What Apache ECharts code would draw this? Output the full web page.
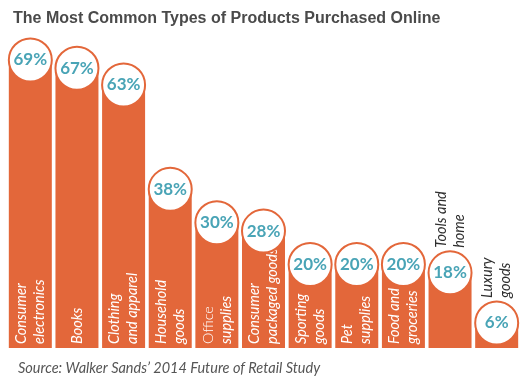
<!DOCTYPE html>
<html><head><meta charset="utf-8">
<script src="https://cdn.jsdelivr.net/npm/echarts@6/dist/echarts.min.js"></script>
<style>html,body{margin:0;padding:0;background:#fff}#c{width:527px;height:376px}</style>
</head><body><div id="c"></div>
<script>
var categories = ['Consumer\nelectronics','Books','Clothing\nand apparel','Household\ngoods','{u|Office}\nsupplies','Consumer\npackaged goods','Sporting\ngoods','Pet\nsupplies','Food and\ngroceries','Tools and\nhome','Luxury\ngoods'];
var values = [69,67,63,38,30,28,20,20,20,18,6];
var titleText = 'The Most Common Types of Products Purchased Online';
var sourceText = "Source: Walker Sands\u2019 2014 Future of Retail Study";

var ORANGE = '#e3673a', TEAL = '#49a4b6';
var barData = values.map(function(v,i){
  var outside = v < 19;
  return {
    value: v,
    label: outside ? {
      show: true, position: 'top', distance: 25, rotate: 90, align: 'left', verticalAlign: 'middle',
      color: '#2e2e2e'
    } : {
      show: true, position: 'insideBottom', distance: 4, rotate: 90, align: 'left', verticalAlign: 'middle',
      color: '#ffffff'
    }
  };
});
var chart = echarts.init(document.getElementById('c'));
chart.setOption({
  animation: false,
  title: [
    {text: titleText, left: 8, top: 6, textStyle: {fontFamily: 'Liberation Sans', fontWeight: 'bold', fontSize: 16, color: '#4a4a4a'}},
    {text: sourceText, left: 13, top: 356, textStyle: {fontFamily: 'Lato', fontStyle: 'italic', fontWeight: 'normal', fontSize: 14.5, color: '#555555'}}
  ],
  grid: {left: 7, right: 7, top: 14, bottom: 28},
  xAxis: {type: 'category', data: categories, axisLine: {show: false}, axisTick: {show: false}, axisLabel: {show: false}},
  yAxis: {type: 'value', min: 0, max: 80, show: false, splitLine: {show: false}},
  series: [
    {type: 'bar', data: barData, barWidth: 43, itemStyle: {color: ORANGE},
     label: {formatter: function(p){return categories[p.dataIndex];}, fontFamily: 'Lato', fontStyle: 'italic', fontSize: 14.5, lineHeight: 18,
       rich: {u: {fontFamily: 'Lato', fontStyle: 'normal', fontWeight: 300, fontSize: 14.5, color: '#ffffff'}}}},
    {type: 'scatter', data: values, symbol: 'circle', symbolSize: 43, z: 5,
     itemStyle: {color: '#ffffff', borderColor: ORANGE, borderWidth: 2, opacity: 1},
     label: {show: true, position: 'inside', formatter: '{c}%', color: TEAL, fontFamily: 'Lato', fontWeight: 'bold', fontSize: 17}}
  ]
});
</script></body></html>
